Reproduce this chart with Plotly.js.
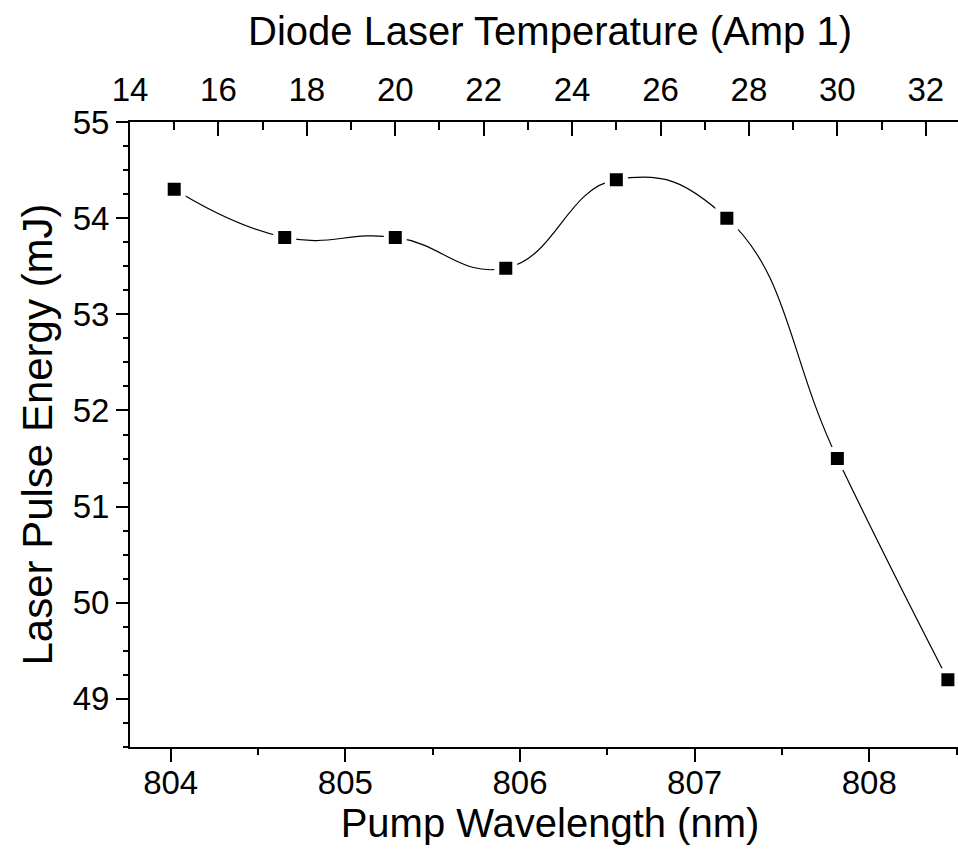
<!DOCTYPE html>
<html>
<head>
<meta charset="utf-8">
<script src="https://cdn.plot.ly/plotly-3.0.1.min.js"></script>
<style>
html,body{margin:0;padding:0;overflow:hidden;background:#fff;}
#chart{width:990px;height:864px;}
</style>
</head>
<body>
<div id="chart"></div>
<script>
// Diode laser temperature (top axis, Amp 1)
const temperature = [15, 17.5, 20, 22.5, 25, 27.5, 30, 32.5];
// Laser pulse energy (mJ)
const energy = [54.3, 53.8, 53.8, 53.48, 54.4, 54.0, 51.5, 49.2];

const xTitle = 'Pump Wavelength (nm)';
const x2Title = 'Diode Laser Temperature (Amp 1)';
const yTitle = 'Laser Pulse Energy (mJ)';

const FONT = 'Arial, "Liberation Sans", sans-serif';

const traces = [
  {
    x: [], y: [], xaxis: 'x', yaxis: 'y2', type: 'scatter', mode: 'markers',
    showlegend: false, hoverinfo: 'skip'
  },
  {
    x: temperature, y: energy, xaxis: 'x2', yaxis: 'y', type: 'scatter',
    mode: 'lines+markers',
    line: {color: '#000', width: 1.2, shape: 'spline', smoothing: 1.3},
    marker: {symbol: 'square', size: 18, color: '#000', line: {color: '#fff', width: 5}},
    showlegend: false, cliponaxis: false
  }
];

const layout = {
  width: 990, height: 864,
  margin: {l: 130, r: 20, t: 122, b: 117, pad: 0},
  paper_bgcolor: '#fff', plot_bgcolor: '#fff',
  font: {family: FONT, color: '#000', size: 32},
  showlegend: false,
  xaxis: {
    range: [803.767, 808.577], dtick: 1, tick0: 804,
    ticks: 'outside', ticklen: 13, tickwidth: 2, tickcolor: '#000',
    minor: {dtick: 0.5, tick0: 804, ticks: 'outside', ticklen: 6, tickwidth: 2, tickcolor: '#000'},
    showline: true, linewidth: 2, linecolor: '#000', mirror: false,
    showgrid: false, zeroline: false,
    ticklabelstandoff: -8,
    tickfont: {family: FONT, size: 33, color: '#000'},
    title: {text: xTitle, font: {family: FONT, size: 40, color: '#000'}, standoff: 3},
    automargin: false
  },
  xaxis2: {
    overlaying: 'x', side: 'top', anchor: 'y',
    range: [14, 33], dtick: 2, tick0: 14,
    ticks: 'inside', ticklen: 14, tickwidth: 2, tickcolor: '#000',
    minor: {dtick: 1, tick0: 14, ticks: 'inside', ticklen: 8, tickwidth: 2, tickcolor: '#000'},
    showline: true, linewidth: 2, linecolor: '#000',
    showgrid: false, zeroline: false,
    ticklabelstandoff: 6,
    tickfont: {family: FONT, size: 33, color: '#000'},
    title: {text: x2Title, font: {family: FONT, size: 40, color: '#000'}, standoff: 13},
    automargin: false
  },
  yaxis: {
    range: [48.5, 55], dtick: 1, tick0: 49,
    ticks: 'outside', ticklen: 12, tickwidth: 2, tickcolor: '#000',
    minor: {dtick: 0.25, tick0: 49, ticks: 'outside', ticklen: 5, tickwidth: 2, tickcolor: '#000'},
    showline: true, linewidth: 2, linecolor: '#000',
    showgrid: false, zeroline: false,
    tickfont: {family: FONT, size: 33, color: '#000'},
    title: {text: yTitle, font: {family: FONT, size: 42, color: '#000'}, standoff: 7},
    automargin: false
  },
  yaxis2: {
    overlaying: 'y', side: 'right', anchor: 'x',
    range: [48.5, 55], dtick: 1, tick0: 49,
    ticks: 'inside', ticklen: 13, tickwidth: 2, tickcolor: '#000',
    showticklabels: false,
    showline: true, linewidth: 2, linecolor: '#000',
    showgrid: false, zeroline: false
  }
};

Plotly.newPlot('chart', traces, layout, {displayModeBar: false, staticPlot: true});
</script>
</body>
</html>
